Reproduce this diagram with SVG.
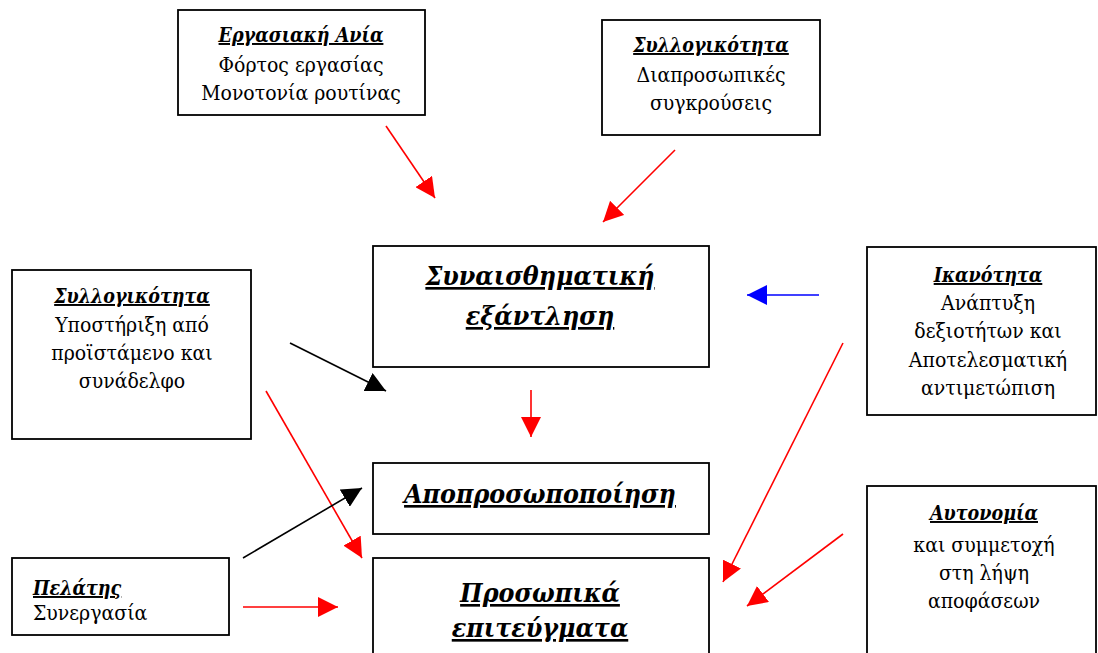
<svg xmlns="http://www.w3.org/2000/svg" width="1098" height="653" viewBox="0 0 1098 653">
<style>
.box{fill:#fff;stroke:#000;stroke-width:1.8}
text{font-family:"DejaVu Serif","Liberation Serif",serif;fill:#000;font-stretch:condensed}
.s{font-size:21px;text-anchor:middle}
.t{font-size:19.5px;font-weight:bold;font-style:italic;text-decoration:underline;text-anchor:middle}
.b{font-size:26.5px;font-weight:bold;font-style:italic;text-decoration:underline;text-anchor:middle}
.r{stroke:#f00;stroke-width:1.6;fill:none}
.k{stroke:#000;stroke-width:1.6;fill:none}
.u{stroke:#00f;stroke-width:1.6;fill:none}
</style>
<defs>
<marker id="mr" markerUnits="userSpaceOnUse" markerWidth="20" markerHeight="20" refX="20" refY="10" orient="auto" viewBox="0 0 20 20"><path d="M0,0L20,10L0,20z" fill="#f00"/></marker>
<marker id="mk" markerUnits="userSpaceOnUse" markerWidth="20" markerHeight="20" refX="20" refY="10" orient="auto" viewBox="0 0 20 20"><path d="M0,0L20,10L0,20z" fill="#000"/></marker>
<marker id="mu" markerUnits="userSpaceOnUse" markerWidth="20" markerHeight="20" refX="20" refY="10" orient="auto" viewBox="0 0 20 20"><path d="M0,0L20,10L0,20z" fill="#00f"/></marker>
</defs>
<rect width="1098" height="653" fill="#fff"/>
<g id="n1"><rect class="box" x="178" y="10" width="247" height="105"/>
<text class="t" x="301" y="42">Εργασιακή Ανία</text>
<text class="s" x="301" y="72">Φόρτος εργασίας</text>
<text class="s" x="301" y="100">Μονοτονία ρουτίνας</text></g>
<g id="n2"><rect class="box" x="602" y="20" width="218" height="115"/>
<text class="t" x="711" y="52">Συλλογικότητα</text>
<text class="s" x="711" y="82">Διαπροσωπικές</text>
<text class="s" x="711" y="110">συγκρούσεις</text></g>
<g id="n3"><rect class="box" x="12" y="270" width="239" height="169"/>
<text class="t" x="132" y="303">Συλλογικότητα</text>
<text class="s" x="132" y="332">Υποστήριξη από</text>
<text class="s" x="132" y="360">προϊστάμενο και</text>
<text class="s" x="132" y="388">συνάδελφο</text></g>
<g id="n4"><rect class="box" x="373" y="246" width="336" height="121"/>
<text class="b" x="540" y="285">Συναισθηματική</text>
<text class="b" x="540" y="325">εξάντληση</text></g>
<g id="n5"><rect class="box" x="867" y="247" width="229" height="168"/>
<text class="t" x="988" y="282">Ικανότητα</text>
<text class="s" x="988" y="310">Ανάπτυξη</text>
<text class="s" x="988" y="338">δεξιοτήτων και</text>
<text class="s" x="988" y="367">Αποτελεσματική</text>
<text class="s" x="988" y="395">αντιμετώπιση</text></g>
<g id="n6"><rect class="box" x="373" y="463" width="336" height="71"/>
<text class="b" x="540" y="503">Αποπροσωποποίηση</text></g>
<g id="n7"><rect class="box" x="373" y="558" width="336" height="120"/>
<text class="b" x="540" y="602">Προσωπικά</text>
<text class="b" x="540" y="637">επιτεύγματα</text></g>
<g id="n8"><rect class="box" x="12" y="558" width="217" height="77"/>
<text class="t" x="33" y="595" style="text-anchor:start">Πελάτης</text>
<text class="s" x="33" y="620" style="text-anchor:start">Συνεργασία</text></g>
<g id="n9"><rect class="box" x="867" y="486" width="229" height="190"/>
<text class="t" x="984" y="520">Αυτονομία</text>
<text class="s" x="984" y="552">και συμμετοχή</text>
<text class="s" x="984" y="580">στη λήψη</text>
<text class="s" x="984" y="608">αποφάσεων</text></g>
<g id="connectors">
<line class="r" x1="386" y1="126" x2="435" y2="198" marker-end="url(#mr)"/>
<line class="r" x1="675" y1="150" x2="603" y2="222" marker-end="url(#mr)"/>
<line class="u" x1="819" y1="295" x2="747" y2="295" marker-end="url(#mu)"/>
<line class="k" x1="290" y1="343" x2="386" y2="391" marker-end="url(#mk)"/>
<line class="r" x1="531" y1="390" x2="531" y2="437" marker-end="url(#mr)"/>
<line class="r" x1="266" y1="391" x2="362" y2="558" marker-end="url(#mr)"/>
<line class="k" x1="243" y1="558" x2="362" y2="488" marker-end="url(#mk)"/>
<line class="r" x1="243" y1="607" x2="338" y2="607" marker-end="url(#mr)"/>
<line class="r" x1="843" y1="343" x2="723" y2="582" marker-end="url(#mr)"/>
<line class="r" x1="843" y1="534" x2="747" y2="606" marker-end="url(#mr)"/>
</g>
</svg>
